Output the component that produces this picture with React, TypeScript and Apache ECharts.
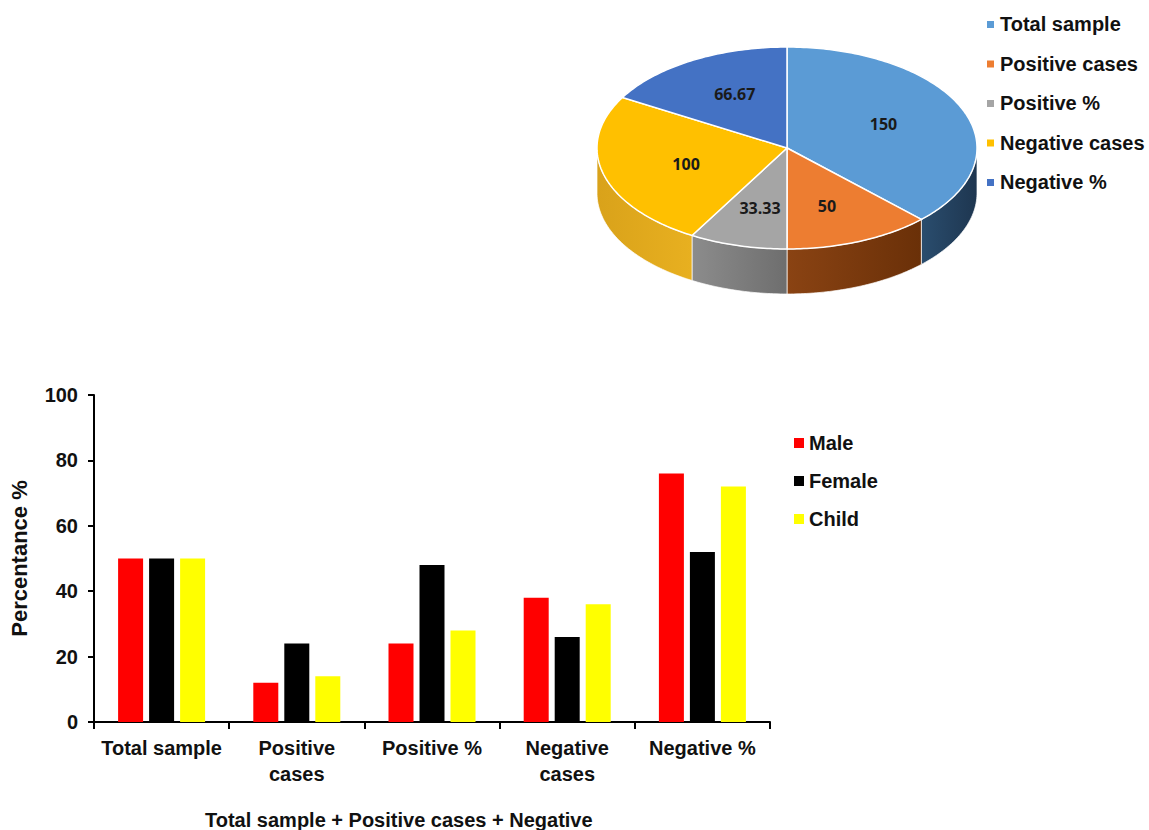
import React, { useEffect, useRef } from "react";
import * as echarts from "echarts";

// ---- Bar chart data ----
const barCategories = ["Total sample", "Positive\ncases", "Positive %", "Negative\ncases", "Negative %"];
const maleValues = [50, 12, 24, 38, 76];
const femaleValues = [50, 24, 48, 26, 52];
const childValues = [50, 14, 28, 36, 72];
const barSeriesNames = ["Male", "Female", "Child"];
const barColors = ["#FF0000", "#000000", "#FFFF00"];
const xAxisTitle = "Total sample + Positive cases + Negative";
const yAxisTitle = "Percentance %";

// ---- Pie chart data ----
const pieNames = ["Total sample", "Positive cases", "Positive %", "Negative cases", "Negative %"];
const pieValues = [150, 50, 33.33, 100, 66.67];
const pieLabels = ["150", "50", "33.33", "100", "66.67"];
const pieTopColors = ["#5B9BD5", "#ED7D31", "#A5A5A5", "#FFC000", "#4472C4"];
const pieSideColors = [
  ["#2A4D6E", "#1E3650"],
  ["#8A4313", "#6A3008"],
  ["#8C8C8C", "#6E6E6E"],
  ["#D9A21A", "#E8B020"],
  ["#2F528F", "#203864"],
];

const FONT = "'Liberation Sans', Arial, sans-serif";

export default function App() {
  const ref = useRef<HTMLDivElement>(null);
  useEffect(() => {
    document.body.style.margin = "0";
    if (!ref.current) return;
    const chart = echarts.init(ref.current, undefined, { renderer: "svg" });

    const cx = 787, cy = 148, rx = 190, ry = 101, depth = 45;
    const total = pieValues.reduce((a, b) => a + b, 0);
    const cum: number[] = [];
    let acc = 0;
    pieValues.forEach((v) => { cum.push(acc); acc += v; });

    const pt = (a: number, dy = 0) => [cx + rx * Math.sin(a), cy - ry * Math.cos(a) + dy];
    const arc = (a1: number, a2: number, dy = 0) => {
      const pts: number[][] = [];
      const n = Math.max(2, Math.ceil(((a2 - a1) * 180) / Math.PI));
      for (let k = 0; k <= n; k++) pts.push(pt(a1 + ((a2 - a1) * k) / n, dy));
      return pts;
    };

    const option: any = {
      animation: false,
      backgroundColor: "#ffffff",
      grid: { left: 93, right: 379, top: 395, bottom: 108, containLabel: false },
      legend: {
        data: barSeriesNames,
        orient: "vertical",
        left: 789,
        top: 427,
        icon: "rect",
        itemWidth: 10,
        itemHeight: 10,
        itemGap: 16,
        textStyle: { fontFamily: FONT, fontWeight: "bold", fontSize: 20, color: "#111", lineHeight: 22 },
        selectedMode: false,
      },
      xAxis: {
        type: "category",
        data: barCategories,
        axisLine: { lineStyle: { color: "#000", width: 2 } },
        axisTick: { show: true, length: 7, lineStyle: { color: "#000", width: 2 } },
        axisLabel: {
          interval: 0,
          margin: 13,
          fontFamily: FONT,
          fontWeight: "bold",
          fontSize: 20,
          color: "#111",
          lineHeight: 26,
          verticalAlign: "top",
        },
      },
      yAxis: {
        type: "value",
        min: 0,
        max: 100,
        interval: 20,
        name: yAxisTitle,
        nameLocation: "middle",
        nameGap: 64,
        nameTextStyle: { fontFamily: FONT, fontWeight: "bold", fontSize: 22, color: "#111" },
        axisLine: { show: true, lineStyle: { color: "#000", width: 2 } },
        axisTick: { show: true, length: 6, lineStyle: { color: "#000", width: 2 } },
        axisLabel: { margin: 16, fontFamily: FONT, fontWeight: "bold", fontSize: 20, color: "#111" },
        splitLine: { show: false },
      },
      graphic: [
        {
          type: "text",
          left: 205,
          top: 810,
          style: { text: xAxisTitle, font: `bold 20px ${FONT}`, fill: "#111" },
        },
        ...pieNames.map((n, i) => ({
          type: "group",
          left: 987,
          top: 14 + i * 39.5,
          children: [
            { type: "rect", shape: { x: 0, y: 7, width: 7, height: 7 }, style: { fill: pieTopColors[i] } },
            { type: "text", x: 13, y: 0, style: { text: n, font: `bold 20px ${FONT}`, fill: "#111" } },
          ],
        })),
      ],
      series: [
        {
          name: "Male",
          type: "bar",
          data: maleValues,
          barWidth: 25,
          barGap: "24%",
          itemStyle: { color: barColors[0] },
        },
        {
          name: "Female",
          type: "bar",
          data: femaleValues,
          barWidth: 25,
          barGap: "24%",
          itemStyle: { color: barColors[1] },
        },
        {
          name: "Child",
          type: "bar",
          data: childValues,
          barWidth: 25,
          barGap: "24%",
          itemStyle: { color: barColors[2] },
        },
        {
          type: "custom",
          coordinateSystem: "none",
          silent: true,
          data: pieValues.map((v, i) => ({ value: v, name: pieNames[i] })),
          renderItem: (params: any) => {
            const i = params.dataIndex;
            const a1 = (cum[i] / total) * Math.PI * 2;
            const a2 = ((cum[i] + pieValues[i]) / total) * Math.PI * 2;
            const children: any[] = [];
            const b1 = Math.max(a1, Math.PI / 2);
            const b2 = Math.min(a2, (Math.PI * 3) / 2);
            if (b1 < b2) {
              const upper = arc(b1, b2, 0);
              const lower = arc(b1, b2, depth).reverse();
              children.push({
                type: "polygon",
                shape: { points: upper.concat(lower) },
                style: {
                  fill: {
                    type: "linear", x: 0, y: 0, x2: 1, y2: 0,
                    colorStops: [
                      { offset: 0, color: pieSideColors[i][0] },
                      { offset: 1, color: pieSideColors[i][1] },
                    ],
                  },
                  stroke: "rgba(255,255,255,0.7)",
                  lineWidth: 1,
                },
              });
            }
            const top = [[cx, cy]].concat(arc(a1, a2, 0));
            children.push({
              type: "polygon",
              shape: { points: top },
              style: { fill: pieTopColors[i], stroke: "#ffffff", lineWidth: 1.5 },
            });
            const mid = (a1 + a2) / 2;
            const lp = [cx + rx * 0.55 * Math.sin(mid), cy - ry * 0.62 * Math.cos(mid)];
            children.push({
              type: "text",
              style: {
                text: pieLabels[i],
                x: lp[0],
                y: lp[1],
                align: "center",
                verticalAlign: "middle",
                font: `bold 16px 'Open Sans', ${FONT}`,
                fill: "#1a1a1a",
              },
            });
            return { type: "group", children };
          },
        },
      ],
    };
    chart.setOption(option);
    return () => chart.dispose();
  }, []);
  return <div ref={ref} style={{ width: 1149, height: 830 }} />;
}
